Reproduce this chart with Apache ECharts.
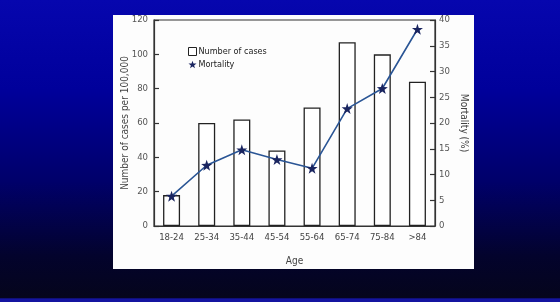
<!DOCTYPE html>
<html><head><meta charset="utf-8">
<script src="https://cdn.jsdelivr.net/npm/echarts@6/dist/echarts.min.js"></script>
<style>
html,body{margin:0;padding:0;}
body{width:560px;height:302px;background:linear-gradient(to bottom,#0606ae 0%,#00009a 30%,#00006a 60%,#03032c 85%,#05051c 98.5%,#1414a0 99%,#1414a0 100%);}
#c{width:560px;height:302px;}
</style></head>
<body><div id="c"></div>
<script>
var categories = ['18-24','25-34','35-44','45-54','55-64','65-74','75-84','>84'];
var cases = [18, 60, 62, 44, 69, 107, 100, 84];
var mortality = [5.8, 11.8, 14.8, 12.9, 11.2, 22.8, 26.7, 38.2];
var leftTicks = {min:0, max:120, interval:20};
var rightTicks = {min:0, max:40, interval:5};

var star = 'path://M0,-10 L2.35,-3.24 9.51,-3.09 3.8,1.24 5.88,8.09 0,4 -5.88,8.09 -3.8,1.24 -9.51,-3.09 -2.35,-3.24 Z';
var font = '"DejaVu Sans Condensed","Liberation Sans Narrow","Liberation Sans",sans-serif';
var chart = echarts.init(document.getElementById('c'), null, {renderer:'canvas'});
chart.setOption({
  backgroundColor:'transparent',
  animation:false,
  textStyle:{fontFamily:font},
  graphic:[{type:'rect', z:-10, shape:{x:113,y:15,width:361,height:254}, style:{fill:'#fdfdfd'}}],
  grid:{left:154, right:125, top:20, bottom:76, show:true, borderColor:'#333', borderWidth:1.2, backgroundColor:'transparent'},
  legend:{
    left:183, top:42, orient:'vertical', itemWidth:8, itemHeight:8, itemGap:4,
    textStyle:{fontSize:9, color:'#222', fontFamily:font, padding:[0,0,0,-3]},
    data:[
      {name:'Number of cases', icon:'rect', itemStyle:{color:'#fff', borderColor:'#222', borderWidth:1}},
      {name:'Mortality', icon:star, itemStyle:{color:'#1a2560'}}
    ]
  },
  xAxis:{
    type:'category', data:categories, boundaryGap:true,
    name:'Age', nameLocation:'middle', nameGap:30, nameMoveOverlap:false,
    nameTextStyle:{fontSize:10, color:'#444'},
    axisLine:{lineStyle:{color:'#333', width:1.2}},
    axisTick:{inside:true, length:5, lineStyle:{color:'#333', width:1.2}},
    axisLabel:{fontSize:9.5, color:'#444', margin:7}
  },
  yAxis:[{
    type:'value', min:leftTicks.min, max:leftTicks.max, interval:leftTicks.interval,
    name:'Number of cases per 100,000', nameLocation:'middle', nameGap:24, nameRotate:90, nameMoveOverlap:false,
    nameTextStyle:{fontSize:10, color:'#444'},
    axisLine:{show:true, lineStyle:{color:'#333', width:1.2}},
    axisTick:{show:true, inside:true, length:5, lineStyle:{color:'#333', width:1.2}},
    axisLabel:{fontSize:9.5, color:'#555', margin:6},
    splitLine:{show:false}
  },{
    type:'value', min:rightTicks.min, max:rightTicks.max, interval:rightTicks.interval,
    name:'Mortality (%)', nameLocation:'middle', nameGap:24, nameRotate:-90, nameMoveOverlap:false,
    nameTextStyle:{fontSize:10, color:'#444'},
    axisLine:{show:true, lineStyle:{color:'#333', width:1.2}},
    axisTick:{show:true, inside:true, length:5, lineStyle:{color:'#333', width:1.2}},
    axisLabel:{fontSize:9.5, color:'#555', margin:4},
    splitLine:{show:false}
  }],
  series:[{
    name:'Number of cases', type:'bar', data:cases, barWidth:17, yAxisIndex:0,
    itemStyle:{color:'#fff', borderColor:'#222', borderWidth:1.3}
  },{
    name:'Mortality', type:'line', data:mortality, yAxisIndex:1,
    symbol:star, symbolSize:11, showAllSymbol:true,
    lineStyle:{color:'#2a5595', width:1.6},
    itemStyle:{color:'#1a2560'}
  }]
});
</script></body></html>
